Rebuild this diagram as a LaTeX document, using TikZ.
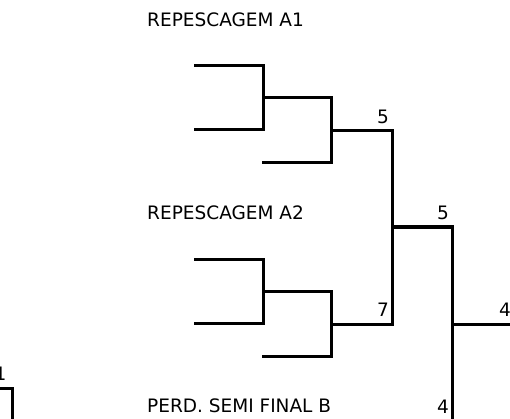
\documentclass[tikz,border=0pt]{standalone}
\usepackage{fontspec}
\setmainfont{DejaVu Sans}
\usepackage{tikz}
\usetikzlibrary{positioning}

\begin{document}
\begin{tikzpicture}[x=1pt, y=-1pt,
                          titlenode/.style={anchor=base west, inner sep=0pt, font=\fontsize{18.5}{20}\selectfont},
                          numnode/.style={inner sep=2pt, font=\fontsize{18.5}{20}\selectfont},
                          bracket/.style={line width=3pt, line cap=butt, line join=miter},
                      ]
                      \useasboundingbox (0,0) rectangle (510,419);
                      \clip (0,0) rectangle (510,419);

                      %Coordinates
                      \coordinate (a1p1) at (194,66);
                      \coordinate (a1p2) at (194,130);
                      \coordinate (a1m)  at (263,98);
                      \coordinate (a1p3) at (262,163);
                      \coordinate (a1w)  at (331,131);
                      \coordinate (sf1)  at (392,131);
                      \coordinate (a2p1) at (194,259);
                      \coordinate (a2p2) at (194,323);
                      \coordinate (a2m)  at (263,291);
                      \coordinate (a2p3) at (262,356);
                      \coordinate (a2w)  at (331,324);
                      \coordinate (sf2)  at (392,324);
                      \coordinate (j1)   at (392,227);
                      \coordinate (j2)   at (452,227);
                      \coordinate (pb)   at (452,420.3);
                      \coordinate (pbl)  at (392,420.3);
                      \coordinate (j3)   at (452,324);
                      \coordinate (champ) at (514,324);
                      \coordinate (l1a)  at (-20,388);
                      \coordinate (l1)   at (12,388);
                      \coordinate (l1b)  at (12,430);

                      %Nodes
                      \node[titlenode] (repA1) at (147,27)  {REPESCAGEM A1};
                      \node[titlenode] (repA2) at (147,220) {REPESCAGEM A2};
                      \node[titlenode] (perdB) at (147,412) {PERD. SEMI FINAL B};
                      \node[numnode] (n5a) [above left=5pt and 1pt of sf1]   {5};
                      \node[numnode] (n7)  [above left=5pt and 1pt of sf2]   {7};
                      \node[numnode] (n5b) [above left=5pt and 1pt of j2]    {5};
                      \node[numnode] (n4a) [above left=5pt and 1pt of champ] {4};
                      \node[numnode] (n4b) [above left=5pt and 1pt of pb]    {4};
                      \node[numnode] (n1)  [above left=5pt and 3.5pt of l1]  {1};

                      %Lines
                      \draw[bracket] (a1p1) -| (a1m) |- (a1p2);
                      \draw[bracket] (a1m) -| (a1w) |- (a1p3);
                      \draw[bracket] (a2p1) -| (a2m) |- (a2p2);
                      \draw[bracket] (a2m) -| (a2w) |- (a2p3);
                      \draw[bracket] (a1w) -- (sf1) -- (sf2) -- (a2w);
                      \draw[bracket] (j1) -- (j2) -- (pb) -- (pbl);
                      \draw[bracket] (j3) -- (champ);
                      \draw[bracket] (l1a) -- (l1) -- (l1b);
                  \end{tikzpicture}
\end{document}
